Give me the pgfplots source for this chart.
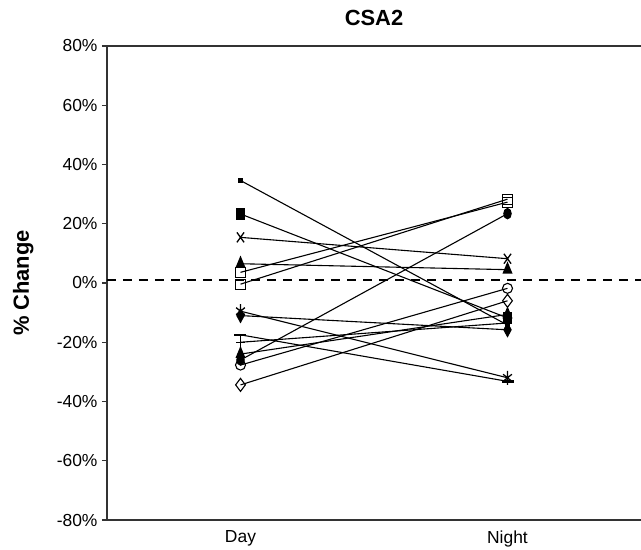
\documentclass[border=0pt]{standalone}
\usepackage{fontspec}
\setmainfont{Liberation Sans}
\usepackage{pgfplots}
\pgfplotsset{compat=1.18}
\begin{document}
\begin{tikzpicture}
\begin{axis}[
  scale only axis, width=534bp, height=474bp,
  xmin=0.5, xmax=2.5, ymin=-80, ymax=80,
  axis x line=box, axis y line*=left,
  axis line style={line width=1.3bp, black!80},
  xtick={1,2}, xticklabels={Day,Night},
  major x tick style={draw=none},
  ytick={-80,-60,...,80},
  yticklabel={\pgfmathprintnumber{\tick}\%},
  /pgf/number format/assume math mode=true,
  tick align=outside, major tick length=5bp,
  major y tick style={line width=1.2bp, black!80},
  ticklabel style={font=\fontsize{17.5}{20}\selectfont},
  yticklabel style={xshift=-1bp},
  xticklabel style={yshift=-2bp},
  title={CSA2},
  title style={font=\fontsize{22}{26}\selectfont\bfseries, at={(axis description cs:0.5,1)}, anchor=base, inner sep=0pt, yshift=15bp},
  ylabel={\% Change},
  ylabel style={font=\fontsize{22}{25}\selectfont\bfseries, at={(axis description cs:-0.157,0.5)}, anchor=center, rotate=0},
  clip=false,
  every axis plot/.append style={black, line width=1.1bp},
  mark options={solid, xscale=0.72, line width=1.3bp},
]
\coordinate (SW) at (rel axis cs:0,0);
\coordinate (NE) at (rel axis cs:1,1);
\addplot[dash pattern=on 9bp off 7bp, line width=1.2bp] coordinates {(0.5,1) (2.5,1)};
% series: (Day, Night)
\addplot[mark=square*, mark size=2.2bp] coordinates {(1,34.6) (2,-14.2)};
\addplot[mark=square*, mark size=5.5bp] coordinates {(1,23.3) (2,-11.8)};
\addplot[mark=x, mark size=7bp] coordinates {(1,15.4) (2,8.2)};
\addplot[mark=triangle*, mark size=6.5bp] coordinates {(1,6.5) (2,4.5)};
\addplot[mark=square, mark size=5bp, mark options={fill=white}] coordinates {(1,3.6) (2,27.3)};
\addplot[mark=square, mark size=5bp, mark options={fill=white}] coordinates {(1,-0.4) (2,28.3)};
\addplot[mark=*, mark size=5bp] coordinates {(1,-26) (2,23.4)};
\addplot[mark=o, mark size=5bp, mark options={fill=white}] coordinates {(1,-27.7) (2,-1.8)};
\addplot[mark=diamond, mark size=6.5bp, mark options={fill=white}] coordinates {(1,-34.4) (2,-6)};
\addplot[mark=triangle*, mark size=6.5bp] coordinates {(1,-24) (2,-10.6)};
\addplot[mark=asterisk, mark size=7bp] coordinates {(1,-9.5) (2,-32)};
\addplot[mark=-, mark size=6bp, mark options={line width=2.5bp}] coordinates {(1,-17.5) (2,-33.2)};
\addplot[mark=diamond*, mark size=6.5bp] coordinates {(1,-11) (2,-15.8)};
\addplot[mark=+, mark size=6bp] coordinates {(1,-20) (2,-13.5)};
\end{axis}
\pgfresetboundingbox
\path[use as bounding box] ([xshift=-107bp,yshift=-30bp]SW) rectangle ([yshift=46bp]NE);
\end{tikzpicture}
\end{document}
